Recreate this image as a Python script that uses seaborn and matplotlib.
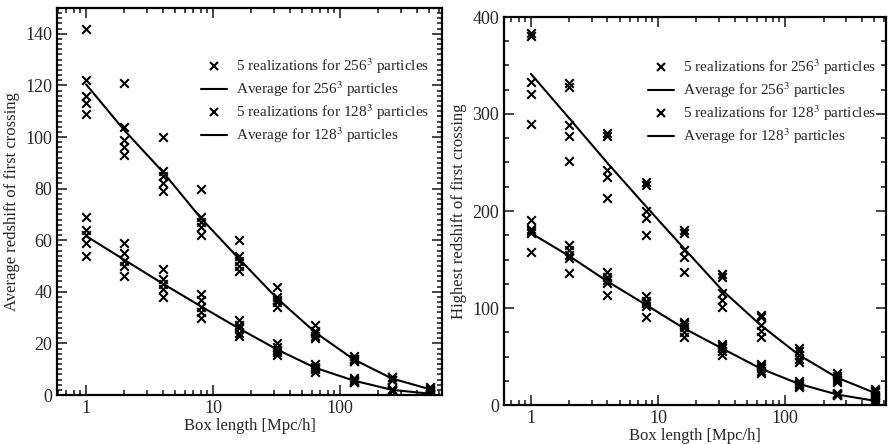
import numpy as np
import pandas as pd
import matplotlib
matplotlib.use("Agg")
import matplotlib.pyplot as plt
import seaborn as sns
from matplotlib.lines import Line2D
from matplotlib.ticker import FixedLocator, FixedFormatter, MultipleLocator, NullFormatter

# ---------------- data ----------------
box_lengths = [1, 2, 4, 8, 16, 32, 64, 128, 256, 512]

# average redshift of first crossing, 5 realizations per box length
avg256_real = [
    [142, 122, 116, 113, 109],
    [121, 104, 99, 96, 93],
    [100, 87, 85, 82, 79],
    [80, 69, 67, 65, 62],
    [60, 54, 52, 50, 48],
    [42, 38, 37, 36, 34],
    [27, 25, 24, 23, 22],
    [15, 14, 14, 13, 13],
    [7, 7, 6, 6, 6],
    [3, 2.5, 2, 2, 1.5],
]
avg128_real = [
    [69, 64, 62, 59, 54],
    [59, 55, 52, 50, 46],
    [49, 45, 43, 41, 38],
    [39, 37, 34, 32, 30],
    [29, 27, 26, 24, 23],
    [20, 18.5, 17.5, 16.5, 15.5],
    [12, 11, 10.5, 10, 9],
    [6.5, 6, 5.5, 5, 5],
    [2.5, 2, 2, 2, 1.5],
    [1, 0.5, 0.5, 0.5, 0],
]
# highest redshift of first crossing
high256_real = [
    [383, 380, 333, 321, 290],
    [332, 328, 289, 277, 252],
    [280, 277, 242, 235, 213],
    [230, 227, 200, 193, 175],
    [180, 177, 160, 153, 137],
    [135, 132, 115, 108, 101],
    [93, 91, 82, 76, 70],
    [59, 56, 52, 47, 44],
    [33, 30, 28, 26, 24],
    [16, 14, 13, 10, 8],
]
high128_real = [
    [191, 181, 179, 177, 158],
    [165, 160, 155, 152, 136],
    [137, 132, 129, 126, 113],
    [112, 107, 105, 102, 91],
    [86, 84, 80, 75, 70],
    [63, 61, 59, 56, 52],
    [42, 40, 38, 35, 33],
    [25, 23, 22, 20, 19],
    [12, 11, 11, 10, 10],
    [7, 5, 4, 3, 2],
]

legend_labels = [
    "5 realizations for 256$^3$ particles",
    "Average for 256$^3$ particles",
    "5 realizations for 128$^3$ particles",
    "Average for 128$^3$ particles",
]
xtick_vals = [1, 10, 100]
xtick_labels = ["1", "10", "100"]


def to_long(real):
    rows = []
    for L, vals in zip(box_lengths, real):
        for v in vals:
            rows.append((L, v))
    return pd.DataFrame(rows, columns=["L", "z"])


sns.set_style("ticks")
plt.rcParams["font.family"] = ["Liberation Serif", "DejaVu Serif"]
plt.rcParams["mathtext.fontset"] = "stix"

fig = plt.figure(figsize=(8.88, 4.44), dpi=100)
ax1 = fig.add_axes([57 / 888, 1 - 395 / 444, (442 - 57) / 888, (395 - 8) / 444])
ax2 = fig.add_axes([504 / 888, 1 - 405 / 444, (886 - 504) / 888, (405 - 17) / 444])


def draw(ax, reals):
    for real in reals:
        df = to_long(real)
        sns.scatterplot(data=df, x="L", y="z", marker="x", color="k", s=38,
                        linewidth=1.5, ax=ax, legend=False, zorder=3)
        sns.lineplot(data=df, x="L", y="z", estimator="mean", errorbar=None,
                     color="k", lw=1.5, ax=ax, zorder=2)


def style(ax, xlim, ylim, major, minor, ylabel, leg_anchor):
    ax.set_xscale("log")
    ax.set_xlim(*xlim)
    ax.set_ylim(*ylim)
    ax.xaxis.set_major_locator(FixedLocator(xtick_vals))
    ax.xaxis.set_major_formatter(FixedFormatter(xtick_labels))
    minors = [m * d for d in [0.1, 1, 10, 100] for m in range(2, 10)]
    ax.xaxis.set_minor_locator(FixedLocator(minors))
    ax.xaxis.set_minor_formatter(NullFormatter())
    ax.yaxis.set_major_locator(MultipleLocator(major))
    ax.yaxis.set_minor_locator(MultipleLocator(minor))
    ax.tick_params(which="both", direction="in", top=True, right=True,
                   labelsize=13, width=1.2)
    ax.tick_params(which="major", length=7)
    ax.tick_params(which="minor", length=3.5)
    for sp in ax.spines.values():
        sp.set_linewidth(1.6)
        sp.set_color("k")
    ax.set_xlabel("Box length [Mpc/h]", fontsize=12, labelpad=1)
    ax.set_ylabel(ylabel, fontsize=12, labelpad=4)
    handles = [
        Line2D([], [], ls="none", marker="x", color="k", ms=6, mew=1.5),
        Line2D([], [], color="k", lw=1.5),
        Line2D([], [], ls="none", marker="x", color="k", ms=6, mew=1.5),
        Line2D([], [], color="k", lw=1.5),
    ]
    ax.legend(handles, legend_labels, loc="upper left", bbox_to_anchor=leg_anchor,
              frameon=False, fontsize=11, handlelength=1.7, handletextpad=0.6,
              labelspacing=0.22, borderpad=0, borderaxespad=0)


draw(ax1, [avg256_real, avg128_real])
style(ax1, (0.59, 635), (0, 150), 20, 2,
      "Average redshift of first crossing", (0.374, 0.875))

draw(ax2, [high256_real, high128_real])
style(ax2, (0.614, 620), (0, 400), 100, 25,
      "Highest redshift of first crossing", (0.376, 0.895))

fig.savefig("out.png", dpi=100)
